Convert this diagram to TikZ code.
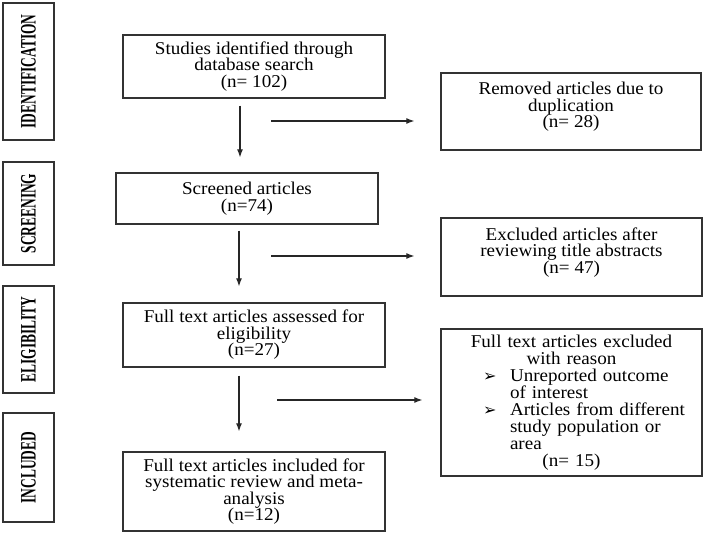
\documentclass[tikz,border=0pt]{standalone}
\usepackage{fontspec}
\setmainfont{Liberation Serif}[FakeStretch=1.06]
\newfontfamily\symfont{DejaVu Sans}
\usetikzlibrary{arrows.meta}
\usetikzlibrary{positioning}

\tikzset{
  box/.style={draw=black!80, line width=1.3pt, rectangle, inner sep=0pt,
    align=center, font=\fontsize{18}{16.5}\selectfont},
  stagebox/.style={draw=black!80, line width=1.3pt, rectangle, inner sep=0pt,
    minimum width=51pt, font=\fontsize{22}{22}\selectfont\bfseries},
  flow/.style={line width=1.2pt, draw=black!85, ->},
}
\newcommand{\stagelabel}[1]{\rotatebox{90}{\scalebox{0.575}[1]{#1}}}
\newcommand{\pointer}{\makebox[27pt][l]{\symfont\fontsize{16}{16}\selectfont ➢}}

\begin{document}
\begin{tikzpicture}[x=1pt, y=-1pt, >={Latex[length=8pt,width=6pt]}]
  \useasboundingbox (0,0) rectangle (704,533);

%%%%%%%%%%%% stages
  \node[stagebox, minimum height=137pt] (stident) at (28.5, 71.5) {\stagelabel{IDENTIFICATION}};
  \node[stagebox, minimum height=103pt] (stscreen) at (28.5, 213.5) {\stagelabel{SCREENING}};
  \node[stagebox, minimum height=107pt] (stelig) at (28.5, 339.5) {\stagelabel{ELIGIBILITY}};
  \node[stagebox, minimum height=109pt] (stincl) at (28.5, 467.5) {\stagelabel{INCLUDED}};

%%%%%%%%%%%% main flow
  \node[box, minimum width=262pt, minimum height=63pt] (ident) at (254, 66.5)
    {Studies identified through\\database search\\(n= 102)};
  \node[box, minimum width=262pt, minimum height=51pt] (screened) at (247, 198.5)
    {Screened articles\\(n=74)};
  \node[box, minimum width=262pt, minimum height=64pt] (elig) at (254, 335)
    {Full text articles assessed for\\eligibility\\(n=27)};
  \node[box, minimum width=262pt, minimum height=79pt] (incl) at (254, 491.5)
    {Full text articles included for\\systematic review and meta-\\analysis\\(n=12)};

%%%%%%%%%%%% excluded
  \node[box, minimum width=260pt, minimum height=77pt] (removed) at (571, 111.5)
    {Removed articles due to\\duplication\\(n= 28)\\[-3.5pt]};
  \node[box, minimum width=261pt, minimum height=78pt] (excl1) at (571.5, 257)
    {Excluded articles after\\reviewing title abstracts\\(n= 47)\\[-3.5pt]};
  \node[box, minimum width=261pt, minimum height=147pt, text width=261pt, align=left,
        font=\fontsize{18}{17}\selectfont] (excl2) at (571.5, 402.5)
    {{\centering Full text articles excluded\\with reason\par}
     \hspace*{42pt}\pointer Unreported outcome\\
     \hspace*{69pt}of interest\\
     \hspace*{42pt}\pointer Articles from different\\
     \hspace*{69pt}study population or\\
     \hspace*{69pt}area\par
     {\centering (n= 15)\par}};

%%%%%%%%%%%% arrows
  \draw[flow] ([shift={(-14pt,-7pt)}]ident.south) -- ([shift={(-14pt,15pt)}]ident.south |- screened.north);
  \draw[flow] ([shift={(-8pt,-6pt)}]screened.south) -- ([shift={(-8pt,16pt)}]screened.south |- elig.north);
  \draw[flow] ([shift={(-15pt,-8pt)}]elig.south) -- ([shift={(-15pt,20pt)}]elig.south |- incl.north);

  \draw[flow] ([shift={(-169pt,-9.5pt)}]removed.west) -- ([shift={(-26pt,-9.5pt)}]removed.west);
  \draw[flow] ([shift={(-169pt,1pt)}]excl1.west) -- ([shift={(-26pt,1pt)}]excl1.west);
  \draw[flow] ([shift={(-163pt,2.5pt)}]excl2.west) -- ([shift={(-18pt,2.5pt)}]excl2.west);
\end{tikzpicture}
\end{document}
